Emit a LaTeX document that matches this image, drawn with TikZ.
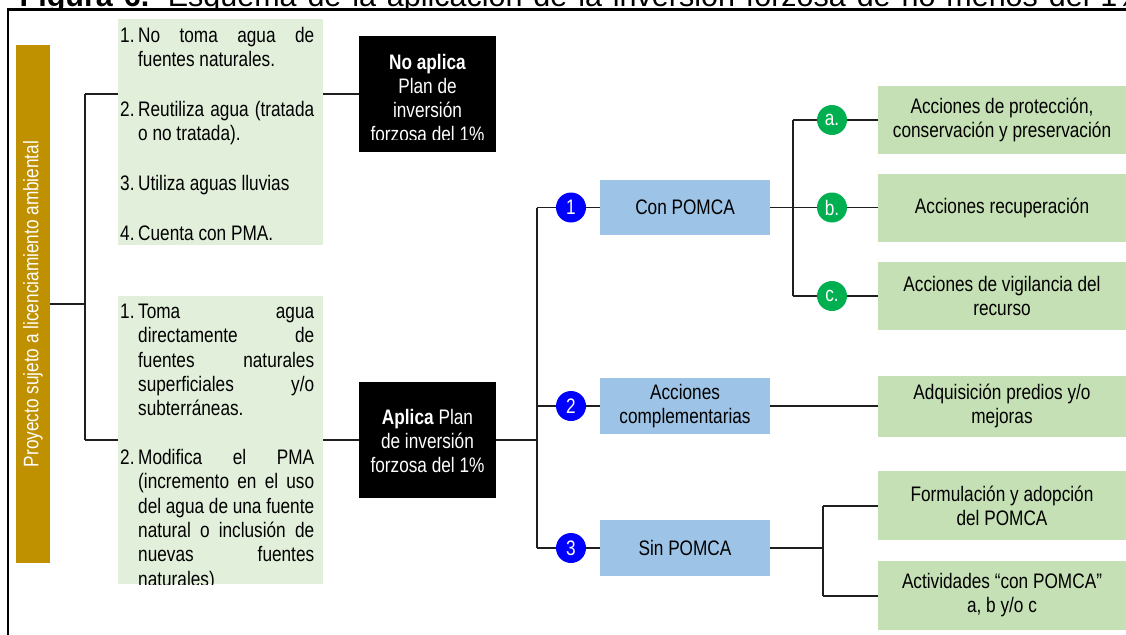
\documentclass[tikz,border=0pt]{standalone}
\usepackage{fontspec}
\setmainfont{Liberation Sans}[FakeStretch=0.82]
\newfontfamily\titlefont{Liberation Sans}
\usetikzlibrary{backgrounds}
\definecolor{gold}{HTML}{BF9000}
\definecolor{lgreen}{HTML}{E2EFDA}
\definecolor{rgreen}{HTML}{C5E0B4}
\definecolor{bluebox}{HTML}{9DC3E6}
\definecolor{cblue}{HTML}{0000FF}
\definecolor{cgreen}{HTML}{00B050}
\newcommand\itm[2]{\hangindent=18pt\hangafter=1\noindent\makebox[18pt][l]{#1}#2\par}
\begin{document}
\begin{tikzpicture}[x=1pt,y=-1pt,
  every node/.style={inner sep=0pt, font=\fontsize{21pt}{24pt}\selectfont},
  conn/.style={draw=black!88, line width=1.6pt},
  lbox/.style={fill=lgreen},
  blk/.style={fill=black},
  bbox/.style={fill=bluebox, align=center, minimum width=170pt},
  rbox/.style={fill=rgreen, align=center, minimum width=248pt},
  numc/.style={circle, minimum size=30pt, text=white, fill=cblue},
  lettr/.style={circle, minimum size=30pt, text=white, fill=cgreen}]
\useasboundingbox (0,0) rectangle (1126,634);

% title (cut off at the top)
\begin{scope}
\clip (0,0) rectangle (1126,8.3);
\node[anchor=base west, font=\titlefont\fontsize{30.5pt}{34pt}\selectfont] (title) at (19.5,6.8)
 {\makebox[1125pt][s]{\bfseries Figura 6.\mdseries{} Esquema de la aplicación de la inversión forzosa de no menos del 1\%}};
\end{scope}

% frame
\draw[line width=2.4pt] (8,645) -- (8,9.6) -- (1135,9.6);

% left bar
\node[fill=gold, minimum width=34pt, minimum height=518pt] (bar) at (33,304) {};
\node[rotate=90, text=white] (bart) at (bar.center) {Proyecto sujeto a licenciamiento ambiental};

% left green boxes
\node[lbox, minimum width=205pt, minimum height=226pt] (g1) at (220.5,132) {};
\node[anchor=base west] (g1t) at (120,42.5) {\parbox[t]{194pt}{\fontsize{21pt}{24pt}\selectfont\setlength\parskip{26pt}%
 \itm{1.}{No toma agua de\linebreak fuentes naturales.}%
 \itm{2.}{Reutiliza agua (tratada\linebreak o no tratada).}%
 \itm{3.}{Utiliza aguas lluvias}%
 \itm{4.}{Cuenta con PMA.}}};

\node[lbox, minimum width=205pt, minimum height=288pt] (g2) at (220.5,440) {};
\begin{scope}
\clip (118,296) rectangle (323,584);
\node[anchor=base west] (g2t) at (120,318.5) {\parbox[t]{194pt}{\fontsize{21pt}{24.3pt}\selectfont\setlength\parskip{24.6pt}%
 \itm{1.}{Toma agua\linebreak directamente de\linebreak fuentes naturales\linebreak superficiales y/o\linebreak subterráneas.}%
 \itm{2.}{Modifica el PMA\linebreak (incremento en el uso\linebreak del agua de una fuente\linebreak natural o inclusión de\linebreak nuevas fuentes\linebreak naturales)}}};
\end{scope}

% black boxes
\node[blk, minimum width=137pt, minimum height=116pt] (n1) at (427.5,94) {};
\begin{scope}
\clip (359,36) rectangle (496,139.5);
\node[anchor=base, text=white] (n1t) at (427.5,69.5) {\parbox[t]{134pt}{\centering\textbf{No aplica}\\Plan de\\inversión\\forzosa del 1\%}};
\end{scope}
\node[blk, minimum width=137pt, minimum height=116pt] (n2) at (427.5,440) {};
\node[anchor=base, text=white] (n2t) at (427.5,424.5) {\parbox[t]{134pt}{\centering\textbf{Aplica} Plan\\de inversión\\forzosa del 1\%}};

% blue boxes
\node[bbox, minimum height=55pt] (b1) at (685,207.5) {Con POMCA};
\node[bbox, minimum height=56pt] (b2) at (685,406) {Acciones\\complementarias};
\node[bbox, minimum height=56pt] (b3) at (685,548) {Sin POMCA};

% numbered circles
\node[numc] (c1) at (571,207.5) {1};
\node[numc] (c2) at (571,406) {2};
\node[numc] (c3) at (571,548) {3};

% lettered circles
\node[lettr] (ca) at (832,120) {a.};
\node[lettr] (cb) at (832,207.5) {b.};
\node[lettr] (cc) at (832,296) {c.};

% right boxes
\node[rbox, minimum height=68pt] (ra) at (1002,120) {Acciones de protección,\\conservación y preservación};
\node[rbox, minimum height=68pt] (rb) at (1002,207.5) {Acciones recuperación};
\node[rbox, minimum height=68pt] (rc) at (1002,296) {Acciones de vigilancia del\\recurso};
\node[rbox, minimum height=61pt] (rd) at (1002,406) {Adquisición predios y/o\\mejoras};
\node[rbox, minimum height=69pt] (re) at (1002,505.5) {Formulación y adopción\\del POMCA};
\node[rbox, minimum height=69pt] (rf) at (1002,595.5) {Actividades “con POMCA”\\a, b y/o c};

% junction coordinates
\coordinate (j0) at (85,304);
\coordinate (ja) at (85,94);
\coordinate (jb) at (85,440);
\coordinate (jc) at (537,440);
\coordinate (jd) at (537,207.5);
\coordinate (je) at (537,548);
\coordinate (jf) at (793,207.5);
\coordinate (jg) at (793,120);
\coordinate (jh) at (793,296);
\coordinate (ji) at (823,548);
\coordinate (jj) at (823,506);
\coordinate (jk) at (823,596);

\begin{scope}[on background layer]
\draw[conn] (bar.east) -- (j0);
\draw[conn] (ja) -- (jb);
\draw[conn] (ja) -- (ja -| g1.west);
\draw[conn] (jb) -- (jb -| g2.west);
\draw[conn] (g1.east |- n1.west) -- (n1.west);
\draw[conn] (g2.east |- n2.west) -- (n2.west);
\draw[conn] (n2.east) -- (jc);
\draw[conn] (jd) -- (je);
\draw[conn] (jd) -- (c1) -- (b1.west);
\draw[conn] (c2 -| jd) -- (c2) -- (b2.west);
\draw[conn] (je) -- (c3) -- (b3.west);
\draw[conn] (b1.east) -- (jf);
\draw[conn] (jg) -- (jh);
\draw[conn] (jg) -- (ca) -- (ra.west);
\draw[conn] (jf) -- (cb) -- (rb.west);
\draw[conn] (jh) -- (cc) -- (rc.west);
\draw[conn] (b2.east) -- (rd.west);
\draw[conn] (b3.east) -- (ji);
\draw[conn] (jj) -- (jk);
\draw[conn] (jj) -- (jj -| re.west);
\draw[conn] (jk) -- (jk -| rf.west);
\end{scope}
\end{tikzpicture}
\end{document}
